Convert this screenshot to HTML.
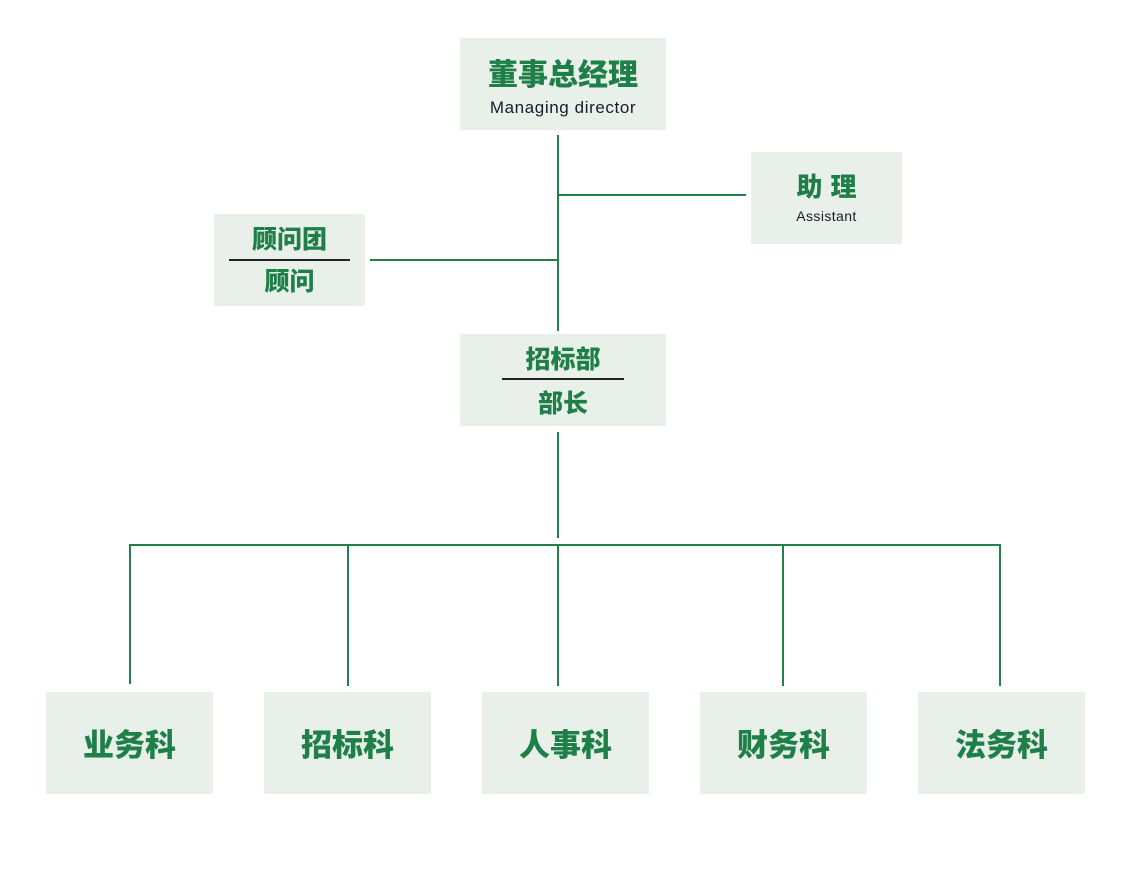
<!DOCTYPE html>
<html><head><meta charset="utf-8"><style>
html,body{margin:0;padding:0;background:#fff;}
body{width:1133px;height:889px;position:relative;overflow:hidden;font-family:"Liberation Sans","Noto Sans CJK SC",sans-serif;}
.b{position:absolute;background:#e8f0e9;color:#1f7f48;text-align:center;font-weight:bold;}
.l{position:absolute;background:#22804b;}
.cn{font-family:"Noto Sans CJK SC","WenQuanYi Zen Hei",sans-serif;font-weight:900;}
.en{font-family:"Liberation Sans",sans-serif;font-weight:normal;color:#1a1a2a;}
.hr{position:absolute;height:2px;background:#222;}
.bt{top:692px;width:167px;height:102px;line-height:102px;font-size:31px;}
</style></head><body>
<div class="l" style="left:557px;top:135px;width:2px;height:196px"></div>
<div class="l" style="left:558px;top:194px;width:188px;height:2px"></div>
<div class="l" style="left:370px;top:259px;width:188px;height:2px"></div>
<div class="l" style="left:557px;top:432px;width:2px;height:106px"></div>
<div class="l" style="left:129px;top:544px;width:872px;height:2px"></div>
<div class="l" style="left:129px;top:544px;width:2px;height:140px"></div>
<div class="l" style="left:347px;top:544px;width:2px;height:142px"></div>
<div class="l" style="left:557px;top:544px;width:2px;height:142px"></div>
<div class="l" style="left:782px;top:544px;width:2px;height:142px"></div>
<div class="l" style="left:999px;top:544px;width:2px;height:142px"></div>

<div class="b" style="left:460px;top:38px;width:206px;height:92px">
<div class="cn" style="position:absolute;left:0;right:0;top:16px;font-size:30px;line-height:36px">董事总经理</div>
<div class="en" style="position:absolute;left:0;right:0;top:60px;font-size:17px;line-height:20px;letter-spacing:0.6px">Managing director</div>
</div>
<div class="b" style="left:751px;top:152px;width:151px;height:92px">
<div class="cn" style="position:absolute;left:0;right:0;top:18px;font-size:26px;line-height:32px;letter-spacing:8px;padding-left:8px">助理</div>
<div class="en" style="position:absolute;left:0;right:0;top:55px;font-size:14px;line-height:18px;letter-spacing:0.4px">Assistant</div>
</div>
<div class="b" style="left:214px;top:214px;width:151px;height:92px">
<div class="cn" style="position:absolute;left:0;right:0;top:8px;font-size:25px;line-height:32px">顾问团</div>
<div class="hr" style="left:15px;width:121px;top:45px"></div>
<div class="cn" style="position:absolute;left:0;right:0;top:50px;font-size:25px;line-height:32px">顾问</div>
</div>
<div class="b" style="left:460px;top:334px;width:206px;height:92px">
<div class="cn" style="position:absolute;left:0;right:0;top:8px;font-size:25px;line-height:32px">招标部</div>
<div class="hr" style="left:42px;width:122px;top:44px"></div>
<div class="cn" style="position:absolute;left:0;right:0;top:52px;font-size:25px;line-height:32px">部长</div>
</div>

<div class="b bt cn" style="left:46px">业务科</div>
<div class="b bt cn" style="left:264px">招标科</div>
<div class="b bt cn" style="left:482px">人事科</div>
<div class="b bt cn" style="left:700px">财务科</div>
<div class="b bt cn" style="left:918px">法务科</div>
</body></html>
